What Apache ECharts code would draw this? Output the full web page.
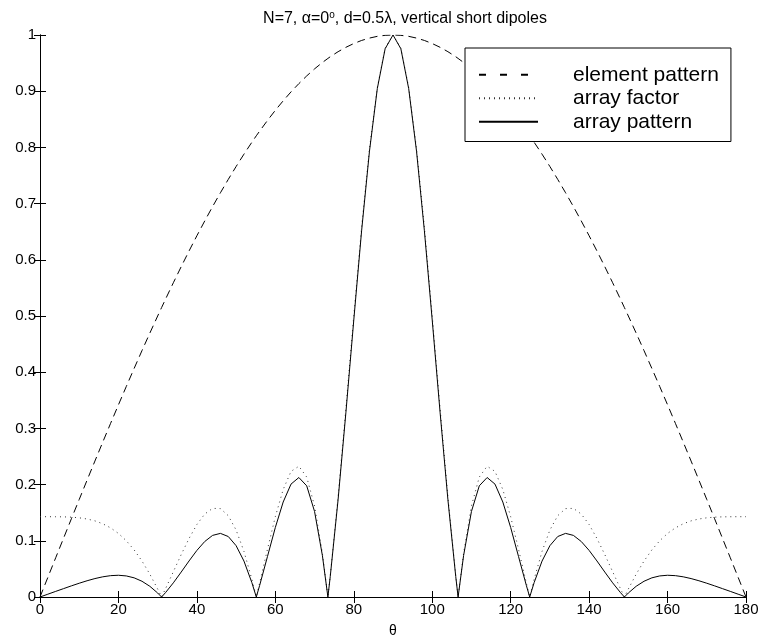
<!DOCTYPE html>
<html>
<head>
<meta charset="utf-8">
<script src="https://cdn.jsdelivr.net/npm/echarts@6/dist/echarts.min.js"></script>
<style>
html,body{margin:0;padding:0;background:#fff;}
#chart{width:763px;height:638px;}
</style>
</head>
<body>
<div id="chart"></div>
<script>
// theta in degrees
const theta = [0,2,4,6,8,10,12,14,16,18,20,22,24,26,28,30,31,32,34,36,38,40,42,44,46,48,50,52,54,55.15,56,58,60,62,64,66,68,70,72,73.4,74,76,78,80,82,84,86,88,90,
92,94,96,98,100,102,104,106,106.6,108,110,112,114,116,118,120,122,124,124.85,126,128,130,132,134,136,138,140,142,144,146,148,149,150,152,154,156,158,160,162,164,166,168,170,172,174,176,178,180];

const elementPattern = [0,0.0349,0.0698,0.1045,0.1392,0.1736,0.2079,0.2419,0.2756,0.3090,0.3420,0.3746,0.4067,0.4384,0.4695,0.5000,0.5150,0.5299,0.5592,0.5878,0.6157,0.6428,0.6691,0.6947,0.7193,0.7431,0.7660,0.7880,0.8090,0.8207,0.8290,0.8480,0.8660,0.8829,0.8988,0.9135,0.9272,0.9397,0.9511,0.9583,0.9613,0.9703,0.9781,0.9848,0.9903,0.9945,0.9976,0.9994,1,
0.9994,0.9976,0.9945,0.9903,0.9848,0.9781,0.9703,0.9613,0.9583,0.9511,0.9397,0.9272,0.9135,0.8988,0.8829,0.8660,0.8480,0.8290,0.8207,0.8090,0.7880,0.7660,0.7431,0.7193,0.6947,0.6691,0.6428,0.6157,0.5878,0.5592,0.5299,0.5150,0.5000,0.4695,0.4384,0.4067,0.3746,0.3420,0.3090,0.2756,0.2419,0.2079,0.1736,0.1392,0.1045,0.0698,0.0349,0];

const arrayFactor = [0.1429,0.1429,0.1428,0.1426,0.1421,0.1409,0.1388,0.1355,0.1303,0.1230,0.1131,0.1001,0.0838,0.0640,0.0407,0.0142,0,0.0147,0.0451,0.0755,0.1041,0.1290,0.1476,0.1577,0.1573,0.1447,0.1192,0.0811,0.0320,0,0.0249,0.0851,0.1429,0.1913,0.2235,0.2327,0.2134,0.1620,0.0776,0,0.0377,0.1784,0.3362,0.5002,0.6582,0.7975,0.9067,0.9762,1,
0.9762,0.9067,0.7975,0.6582,0.5002,0.3362,0.1784,0.0377,0,0.0776,0.1620,0.2134,0.2327,0.2235,0.1913,0.1429,0.0851,0.0249,0,0.0320,0.0811,0.1192,0.1447,0.1573,0.1577,0.1476,0.1290,0.1041,0.0755,0.0451,0.0147,0,0.0142,0.0407,0.0640,0.0838,0.1001,0.1131,0.1230,0.1303,0.1355,0.1388,0.1409,0.1421,0.1426,0.1428,0.1429,0.1429];

const arrayPattern = [0,0.0050,0.0100,0.0149,0.0198,0.0245,0.0289,0.0328,0.0359,0.0380,0.0387,0.0375,0.0341,0.0280,0.0191,0.0071,0,0.0078,0.0252,0.0444,0.0641,0.0829,0.0987,0.1096,0.1132,0.1076,0.0913,0.0639,0.0259,0,0.0206,0.0722,0.1237,0.1690,0.2009,0.2126,0.1978,0.1522,0.0738,0,0.0362,0.1731,0.3289,0.4926,0.6518,0.7931,0.9045,0.9756,1,
0.9756,0.9045,0.7931,0.6518,0.4926,0.3289,0.1731,0.0362,0,0.0738,0.1522,0.1978,0.2126,0.2009,0.1690,0.1237,0.0722,0.0206,0,0.0259,0.0639,0.0913,0.1076,0.1132,0.1096,0.0987,0.0829,0.0641,0.0444,0.0252,0.0078,0,0.0071,0.0191,0.0280,0.0341,0.0375,0.0387,0.0380,0.0359,0.0328,0.0289,0.0245,0.0198,0.0149,0.0100,0.0050,0];

const seriesNames = ['element pattern', 'array factor', 'array pattern'];
const xTicks = [0,20,40,60,80,100,120,140,160,180];
const yTicks = [0,0.1,0.2,0.3,0.4,0.5,0.6,0.7,0.8,0.9,1];

const FONT = 'Liberation Sans, Arial, Helvetica, sans-serif';
const chart = echarts.init(document.getElementById('chart'), null, {renderer: 'canvas'});

function pairs(vals){ return theta.map((t,i)=>[t, vals[i]]); }

const xMin = xTicks[0], xMax = xTicks[xTicks.length-1], xInt = xTicks[1]-xTicks[0];
const yMin = yTicks[0], yMax = yTicks[yTicks.length-1], yInt = 0.1;

const axisLineStyle = {show: true, lineStyle: {color: '#000', width: 1}};
const tickStyle = {show: true, inside: true, length: 6, lineStyle: {color: '#000', width: 1}};

chart.setOption({
  animation: false,
  backgroundColor: '#fff',
  title: {
    text: 'N=7, α=0{sup|o}, d=0.5λ, vertical short dipoles',
    left: 400,
    top: 5,
    textAlign: 'center',
    textStyle: {
      fontFamily: FONT, fontSize: 16, fontWeight: 'normal', color: '#000',
      rich: { sup: {fontFamily: FONT, fontSize: 10, verticalAlign: 'top', padding: [0,0,7,0], color: '#000'} }
    }
  },
  grid: {left: 40, right: 17, top: 35, bottom: 41, show: false, outerBoundsMode: 'none', containLabel: false},
  legend: {
    data: [
      {name: seriesNames[0], lineStyle: {type: [7, 14]}},
      {name: seriesNames[1], lineStyle: {type: [1, 4]}},
      {name: seriesNames[2]}
    ],
    orient: 'vertical',
    left: 465,
    top: 48,
    padding: [15, 12, 8, 13],
    itemWidth: 59,
    itemHeight: 14,
    itemGap: 0,
    backgroundColor: '#fff',
    borderColor: '#000',
    borderWidth: 1,
    borderRadius: 0,
    selectedMode: false,
    itemStyle: {color: 'rgba(0,0,0,0)', borderWidth: 0, opacity: 0},
    textStyle: {fontFamily: FONT, fontSize: 21, color: '#000', lineHeight: 23.5, padding: [0,0,0,30]}
  },
  xAxis: [
    {
      type: 'value', min: xMin, max: xMax, interval: xInt,
      position: 'bottom',
      name: 'θ', nameLocation: 'middle', nameGap: 27,
      nameTextStyle: {fontFamily: FONT, fontSize: 14, color: '#000'},
      axisLine: axisLineStyle, axisTick: tickStyle,
      axisLabel: {fontFamily: FONT, fontSize: 15, color: '#000', margin: 5},
      splitLine: {show: false}
    },
    {
      type: 'value', min: xMin, max: xMax, interval: xInt,
      position: 'top',
      axisLine: axisLineStyle, axisTick: tickStyle,
      axisLabel: {show: false}, splitLine: {show: false}
    }
  ],
  yAxis: [
    {
      type: 'value', min: yMin, max: yMax, interval: yInt,
      position: 'left',
      axisLine: axisLineStyle, axisTick: tickStyle,
      axisLabel: {fontFamily: FONT, fontSize: 15, color: '#000', margin: 4},
      splitLine: {show: false}
    },
    {
      type: 'value', min: yMin, max: yMax, interval: yInt,
      position: 'right',
      axisLine: axisLineStyle, axisTick: tickStyle,
      axisLabel: {show: false}, splitLine: {show: false}
    }
  ],
  series: [
    {
      name: seriesNames[0], type: 'line', xAxisIndex: 0, yAxisIndex: 0,
      data: pairs(elementPattern), symbol: 'none', showSymbol: false,
      lineStyle: {color: '#000', width: 1, type: [8, 5]},
      itemStyle: {color: '#000'}, z: 2
    },
    {
      name: seriesNames[1], type: 'line', xAxisIndex: 0, yAxisIndex: 0,
      data: pairs(arrayFactor), symbol: 'none', showSymbol: false,
      lineStyle: {color: '#333', width: 1, type: [1, 4]},
      itemStyle: {color: '#333'}, z: 3
    },
    {
      name: seriesNames[2], type: 'line', xAxisIndex: 0, yAxisIndex: 0,
      data: pairs(arrayPattern), symbol: 'none', showSymbol: false,
      lineStyle: {color: '#000', width: 1, type: 'solid'},
      itemStyle: {color: '#000'}, z: 4
    }
  ]
});
</script>
</body>
</html>
